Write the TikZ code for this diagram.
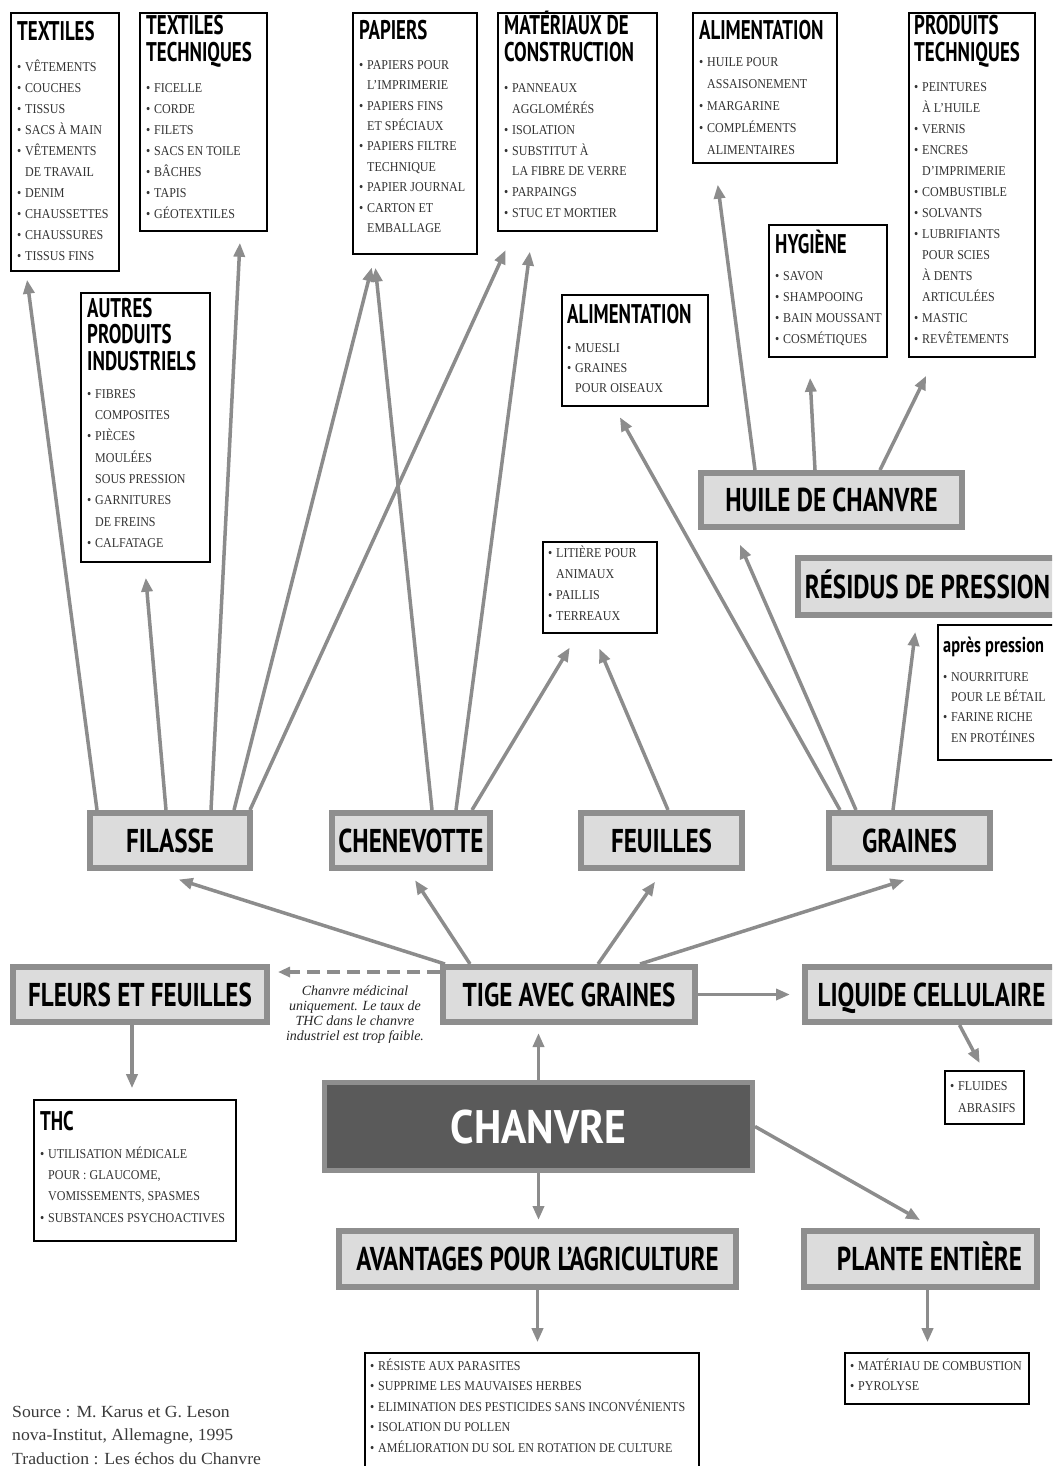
\documentclass[tikz,border=0pt]{standalone}
\usepackage{fontspec}
\usetikzlibrary{arrows.meta}
\newfontfamily\ttlf[FakeStretch=0.70]{PT Sans}
\newfontfamily\catf[FakeStretch=0.76]{PT Sans}
\newfontfamily\bigf[FakeStretch=0.89]{PT Sans}
\newfontfamily\itmf[FakeStretch=0.89]{Liberation Serif}
\newfontfamily\notef{Liberation Serif}
\newfontfamily\srcf[FakeStretch=1.04]{Liberation Serif}
\definecolor{catfill}{HTML}{DCDCDC}
\definecolor{catline}{HTML}{8E8E8E}
\definecolor{arrc}{HTML}{8C8C8C}
\definecolor{itmc}{HTML}{333333}
\definecolor{darkbox}{HTML}{5A5A5A}
\definecolor{srcc}{HTML}{3A3A3A}
\newcommand\TT{\leavevmode\color{black}\ttlf\bfseries\fontsize{27}{27}\selectfont}
\newcommand\CT{\catf\bfseries\fontsize{33}{33}\selectfont}
\newcommand\IT{\itmf\fontsize{13.5}{21}\selectfont}
\newcommand\bu{\leavevmode\makebox[8pt][l]{\textbullet}}
\newcommand\ct{\leavevmode\hspace*{8pt}}
\newcommand\blk[1]{\parbox[t]{400pt}{\raggedright #1}}
\begin{document}
\begin{tikzpicture}[x=1pt,y=-1pt,
  cat/.style={draw=catline, line width=6pt, fill=catfill, inner sep=0pt, font=\CT, text=black, text height=23pt, text depth=0pt},
  lbox/.style={draw=black, line width=1.6pt, fill=white, inner sep=0pt},
  txt/.style={anchor=base west, inner sep=0pt, text=itmc},
  arr/.style={draw=arrc, line width=3.5pt, -{Triangle[length=14pt,width=11pt]}},
  darr/.style={draw=arrc, line width=4.5pt, dash pattern=on 13pt off 7pt, -{Triangle[length=12pt,width=10pt]}}
]
\useasboundingbox (0,0) rectangle (1052,1466);
\clip (0,0) rectangle (1052,1466);

% ---------- list boxes ----------
\node[lbox, minimum width=108pt, minimum height=258pt] (textiles) at (65,142) {};
\node[txt] (textilesT) at (17,41) {\blk{{\TT TEXTILES\par}\vspace{10pt}\IT
\bu VÊTEMENTS\par\bu COUCHES\par\bu TISSUS\par\bu SACS À MAIN\par\bu VÊTEMENTS\par\ct DE TRAVAIL\par\bu DENIM\par\bu CHAUSSETTES\par\bu CHAUSSURES\par\bu TISSUS FINS}};

\node[lbox, minimum width=127pt, minimum height=218pt] (textech) at (203.5,122) {};
\node[txt] (textechT) at (146,35) {\blk{{\TT TEXTILES\par TECHNIQUES\par}\vspace{10pt}\IT
\bu FICELLE\par\bu CORDE\par\bu FILETS\par\bu SACS EN TOILE\par\bu BÂCHES\par\bu TAPIS\par\bu GÉOTEXTILES}};

\node[lbox, minimum width=124pt, minimum height=241pt] (papiers) at (415,133.5) {};
\node[txt] (papiersT) at (359,40) {\blk{{\TT PAPIERS\par}\vspace{9pt}\IT\baselineskip=20.4pt
\bu PAPIERS POUR\par\ct L’IMPRIMERIE\par\bu PAPIERS FINS\par\ct ET SPÉCIAUX\par\bu PAPIERS FILTRE\par\ct TECHNIQUE\par\bu PAPIER JOURNAL\par\bu CARTON ET\par\ct EMBALLAGE}};

\node[lbox, minimum width=159pt, minimum height=218pt] (materiaux) at (577.5,122) {};
\node[txt] (materiauxT) at (504,35) {\blk{{\TT MATÉRIAUX DE\par CONSTRUCTION\par}\vspace{10pt}\IT\baselineskip=20.8pt
\bu PANNEAUX\par\ct AGGLOMÉRÉS\par\bu ISOLATION\par\bu SUBSTITUT À\par\ct LA FIBRE DE VERRE\par\bu PARPAINGS\par\bu STUC ET MORTIER}};

\node[lbox, minimum width=144pt, minimum height=150pt] (alim1) at (765,88) {};
\node[txt] (alim1T) at (699,40) {\blk{{\TT ALIMENTATION\par}\vspace{5pt}\IT\baselineskip=22pt
\bu HUILE POUR\par\ct ASSAISONEMENT\par\bu MARGARINE\par\bu COMPLÉMENTS\par\ct ALIMENTAIRES}};

\node[lbox, minimum width=126pt, minimum height=344pt] (prodtech) at (972,185) {};
\node[txt] (prodtechT) at (914,35) {\blk{{\TT PRODUITS\par TECHNIQUES\par}\vspace{9pt}\IT
\bu PEINTURES\par\ct À L’HUILE\par\bu VERNIS\par\bu ENCRES\par\ct D’IMPRIMERIE\par\bu COMBUSTIBLE\par\bu SOLVANTS\par\bu LUBRIFIANTS\par\ct POUR SCIES\par\ct À DENTS\par\ct ARTICULÉES\par\bu MASTIC\par\bu REVÊTEMENTS}};

\node[lbox, minimum width=118pt, minimum height=132pt] (hygiene) at (828,291) {};
\node[txt] (hygieneT) at (775,253) {\blk{{\TT HYGIÈNE\par}\vspace{6pt}\IT
\bu SAVON\par\bu SHAMPOOING\par\bu BAIN MOUSSANT\par\bu COSMÉTIQUES}};

\node[lbox, minimum width=129pt, minimum height=269pt] (autres) at (145.5,427.5) {};
\node[txt] (autresT) at (87,317) {\blk{{\TT\baselineskip=26.5pt AUTRES\par PRODUITS\par INDUSTRIELS\par}\vspace{7pt}\IT\baselineskip=21.3pt
\bu FIBRES\par\ct COMPOSITES\par\bu PIÈCES\par\ct MOULÉES\par\ct SOUS PRESSION\par\bu GARNITURES\par\ct DE FREINS\par\bu CALFATAGE}};

\node[lbox, minimum width=146pt, minimum height=111pt] (alim2) at (635,350.5) {};
\node[txt] (alim2T) at (567,323) {\blk{{\TT ALIMENTATION\par}\vspace{9pt}\IT\baselineskip=20pt
\bu MUESLI\par\bu GRAINES\par\ct POUR OISEAUX}};

\node[lbox, minimum width=114pt, minimum height=91pt] (litiere) at (600,587.5) {};
\node[txt] (litiereT) at (548,557) {\blk{\IT
\bu LITIÈRE POUR\par\ct ANIMAUX\par\bu PAILLIS\par\bu TERREAUX}};

\node[lbox, minimum width=135pt, minimum height=135pt] (apres) at (1005.5,692.5) {};
\node[txt] (apresT) at (943,652) {\blk{{\leavevmode\color{black}\catf\bfseries\fontsize{21.5}{22}\selectfont après pression\par}\vspace{9pt}\IT\baselineskip=20.3pt
\bu NOURRITURE\par\ct POUR LE BÉTAIL\par\bu FARINE RICHE\par\ct EN PROTÉINES}};

\node[lbox, minimum width=202pt, minimum height=141pt] (thc) at (135,1170.5) {};
\node[txt] (thcT) at (40,1130) {\blk{{\TT THC\par}\vspace{7pt}\IT\baselineskip=21.3pt
\bu UTILISATION MÉDICALE\par\ct POUR : GLAUCOME,\par\ct VOMISSEMENTS, SPASMES\par\bu SUBSTANCES PSYCHOACTIVES}};

\node[lbox, minimum width=79pt, minimum height=53pt] (fluides) at (984.5,1097.5) {};
\node[txt] (fluidesT) at (950,1090) {\blk{\IT\baselineskip=22pt
\bu FLUIDES\par\ct ABRASIFS}};

\node[lbox, minimum width=334pt, minimum height=126pt] (avlist) at (532,1416) {};
\node[txt] (avlistT) at (370,1370) {\blk{\IT\baselineskip=20.5pt
\bu RÉSISTE AUX PARASITES\par\bu SUPPRIME LES MAUVAISES HERBES\par\bu ELIMINATION DES PESTICIDES SANS INCONVÉNIENTS\par\bu ISOLATION DU POLLEN\par\bu AMÉLIORATION DU SOL EN ROTATION DE CULTURE}};

\node[lbox, minimum width=184pt, minimum height=51pt] (plist) at (937,1378.5) {};
\node[txt] (plistT) at (850,1370) {\blk{\IT\baselineskip=20pt
\bu MATÉRIAU DE COMBUSTION\par\bu PYROLYSE}};

% ---------- category boxes ----------
\node[cat, minimum width=261pt, minimum height=54pt] (huile) at (831.5,500) {HUILE DE CHANVRE};
\node[cat, minimum width=259pt, minimum height=57pt] (residus) at (927.5,586.5) {RÉSIDUS DE PRESSION};
\node[cat, minimum width=160pt, minimum height=55pt] (filasse) at (170,840.5) {FILASSE};
\node[cat, minimum width=158pt, minimum height=55pt] (chenevotte) at (411,840.5) {CHENEVOTTE};
\node[cat, minimum width=161pt, minimum height=55pt] (feuilles) at (661.5,840.5) {FEUILLES};
\node[cat, minimum width=161pt, minimum height=55pt] (graines) at (909.5,840.5) {GRAINES};
\node[cat, minimum width=254pt, minimum height=55pt] (fleurs) at (140,994.5) {FLEURS ET FEUILLES};
\node[cat, minimum width=252pt, minimum height=55pt] (tige) at (569,994.5) {TIGE AVEC GRAINES};
\node[cat, minimum width=253pt, minimum height=55pt] (liquide) at (931.5,994.5) {LIQUIDE CELLULAIRE};
\node[cat, minimum width=397pt, minimum height=56pt] (avantages) at (537.5,1259) {AVANTAGES POUR L’AGRICULTURE};
\node[cat, minimum width=233pt, minimum height=56pt] (plante) at (920.5,1259) {\hspace*{18pt}PLANTE ENTIÈRE};
\node[draw=catline, line width=5pt, fill=darkbox, inner sep=0pt, minimum width=428pt, minimum height=88pt,
      font=\bigf\bfseries\fontsize{47}{47}\selectfont, text=white, text height=33pt, text depth=0pt] (chanvre) at (538.5,1126.5) {CHANVRE};

% ---------- note and source ----------
\node[anchor=base, inner sep=0pt, text=black!85] (note) at (355,995) {\parbox[t]{180pt}{\centering\notef\itshape\fontsize{14}{15}\selectfont Chanvre médicinal\\ uniquement. Le taux de\\ THC dans le chanvre\\ industriel est trop faible.}};
\node[txt, text=srcc] (src) at (12,1417) {\blk{\srcf\fontsize{17}{23.5}\selectfont Source : M. Karus et G. Leson\par nova-Institut, Allemagne, 1995\par Traduction : Les échos du Chanvre}};

% ---------- connectors ----------
\draw[arr, shorten >=8pt]  ([xshift=-73pt]filasse.north) -- ([xshift=-39pt]textiles.south);
\draw[arr, shorten >=15pt] ([xshift=-4pt]filasse.north) -- ([xshift=-1pt]autres.south);
\draw[arr, shorten >=11pt] ([xshift=41pt]filasse.north) -- ([xshift=37pt]textech.south);
\draw[arr, shorten >=13pt] ([xshift=64pt]filasse.north) -- ([xshift=-40pt]papiers.south);
\draw[arr, shorten >=20pt] ([xshift=80pt]filasse.north) -- ([xshift=-63.5pt]materiaux.south);
\draw[arr, shorten >=13pt] ([xshift=21pt]chenevotte.north) -- ([xshift=-41pt]papiers.south);
\draw[arr, shorten >=20pt] ([xshift=45pt]chenevotte.north) -- ([xshift=-45pt]materiaux.south);
\draw[arr, shorten >=16pt] ([xshift=61pt]chenevotte.north) -- ([xshift=-22pt]litiere.south);
\draw[arr, shorten >=16pt] ([xshift=6.5pt]feuilles.north) -- ([xshift=-7pt]litiere.south);
\draw[arr, shorten >=12pt] ([xshift=-69.5pt]graines.north) -- ([xshift=-21pt]alim2.south);
\draw[arr, shorten >=16pt] ([xshift=-53.5pt]graines.north) -- ([xshift=-98pt]huile.south);
\draw[arr, shorten >=14pt] ([xshift=-16.5pt]graines.north) -- ([xshift=-10.5pt]residus.south);
\draw[arr, shorten >=21pt] ([xshift=-76.5pt]huile.north) -- ([xshift=-50pt]alim1.south);
\draw[arr, shorten >=20pt] ([xshift=-16.5pt]huile.north) -- ([xshift=-19pt]hygiene.south);
\draw[arr, shorten >=20pt] ([xshift=48.5pt]huile.north) -- ([xshift=-37pt]prodtech.south);
\draw[arr, shorten >=28pt] ([xshift=-124pt]tige.north) -- ([xshift=-18pt]filasse.south);
\draw[arr, shorten >=11pt] ([xshift=-99pt]tige.north) -- ([xshift=-2pt]chenevotte.south);
\draw[arr, shorten >=13pt] ([xshift=29pt]tige.north) -- ([xshift=1pt]feuilles.south);
\draw[arr, shorten >=30pt] ([xshift=71pt]tige.north) -- ([xshift=23.5pt]graines.south);
\draw[darr, shorten >=8pt] ([yshift=-8pt]tige.north west) -- ([yshift=-8pt]fleurs.north east);
\draw[arr, shorten >=12pt] (tige.east) -- (liquide.west);
\draw[arr, shorten >=8pt] (chanvre.north) -- (chanvre.north |- tige.south);
\draw[arr, shorten >=8pt] (chanvre.south) -- (chanvre.south |- avantages.north);
\draw[arr, shorten >=16pt] (chanvre.east) -- ([xshift=13.5pt]plante.north);
\draw[arr, shorten >=10pt] (avantages.south) -- (avantages.south |- avlist.north);
\coordinate (pls) at ([xshift=7pt]plante.south);
\draw[arr, shorten >=10pt] (pls) -- (pls |- plist.north);
\coordinate (fls) at ([xshift=-8pt]fleurs.south);
\draw[arr, shorten >=11pt] (fls) -- (fls |- thc.north);
\draw[arr, shorten >=8pt] ([xshift=28pt]liquide.south) -- ([xshift=-1pt]fluides.north);
\end{tikzpicture}
\end{document}
